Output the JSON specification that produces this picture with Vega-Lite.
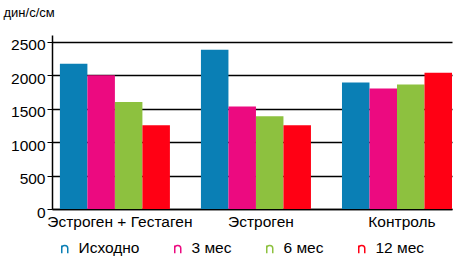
{
  "$schema": "https://vega.github.io/schema/vega-lite/v6.json",
  "autosize": "none",
  "width": 400,
  "height": 174,
  "padding": {"left": 52, "top": 35, "right": 7, "bottom": 52},
  "background": "white",
  "config": {
    "font": "Liberation Sans",
    "view": {"stroke": null},
    "axis": {"labelColor": "black", "titleColor": "black", "domainColor": "black", "tickColor": "black", "gridColor": "black", "gridOpacity": 1}
  },
  "data": {
    "values": [
      {"group": "Эстроген + Гестаген", "period": "Исходно", "value": 2170},
      {"group": "Эстроген + Гестаген", "period": "3 мес", "value": 2000},
      {"group": "Эстроген + Гестаген", "period": "6 мес", "value": 1600},
      {"group": "Эстроген + Гестаген", "period": "12 мес", "value": 1250},
      {"group": "Эстроген", "period": "Исходно", "value": 2380},
      {"group": "Эстроген", "period": "3 мес", "value": 1530},
      {"group": "Эстроген", "period": "6 мес", "value": 1385},
      {"group": "Эстроген", "period": "12 мес", "value": 1250},
      {"group": "Контроль", "period": "Исходно", "value": 1890},
      {"group": "Контроль", "period": "3 мес", "value": 1800},
      {"group": "Контроль", "period": "6 мес", "value": 1860},
      {"group": "Контроль", "period": "12 мес", "value": 2035}
    ]
  },
  "mark": {"type": "bar"},
  "encoding": {
    "x": {
      "field": "group", "type": "nominal",
      "sort": ["Эстроген + Гестаген", "Эстроген", "Контроль"],
      "scale": {"paddingInner": 0.22, "paddingOuter": 0.028, "align": 1},
      "axis": {"title": null, "labelAngle": 0, "ticks": false, "labelPadding": 5, "labelOffset": 5, "labelFontSize": 15.5, "domainWidth": 1.5}
    },
    "xOffset": {
      "field": "period", "type": "nominal",
      "sort": ["Исходно", "3 мес", "6 мес", "12 мес"],
      "scale": {"paddingInner": 0, "paddingOuter": 0}
    },
    "y": {
      "field": "value", "type": "quantitative",
      "scale": {"domain": [0, 2600], "nice": false},
      "axis": {
        "values": [0, 500, 1000, 1500, 2000, 2500], "format": "d",
        "title": "дин/с/см", "titleAngle": 0, "titleAlign": "left", "titleBaseline": "top",
        "titleX": -49, "titleY": -29, "titleFontSize": 13, "titleFontWeight": "normal",
        "labelFontSize": 15.5, "labelPadding": 2, "labelOffset": 3, "tickSize": 5, "grid": true, "gridWidth": 1.5, "domainWidth": 1.5, "labelBaseline": "middle"
      }
    },
    "color": {
      "field": "period", "type": "nominal",
      "sort": ["Исходно", "3 мес", "6 мес", "12 мес"],
      "scale": {"range": ["#0A7FB5", "#EC0A80", "#8DC13F", "#FF0014"]},
      "legend": {
        "title": null, "orient": "none", "direction": "horizontal",
        "legendX": 5, "legendY": 205,
        "symbolType": "M-0.6,1 L-0.6,-0.55 M-0.6,-0.1 C-0.55,-0.7 0.6,-0.7 0.6,0 L0.6,1",
        "symbolSize": 100, "symbolStrokeWidth": 1.5, "symbolFillColor": "transparent",
        "labelFontSize": 15.5, "labelColor": "black", "labelOffset": 6, "columnPadding": 30,
        "encode": {"symbols": {"enter": {"fill": {"value": "transparent"}}, "update": {"fill": {"value": "transparent"}, "fillOpacity": {"value": 0}, "stroke": {"scale": "color", "field": "value"}, "strokeWidth": {"value": 1.5}}}}
      }
    }
  }
}
